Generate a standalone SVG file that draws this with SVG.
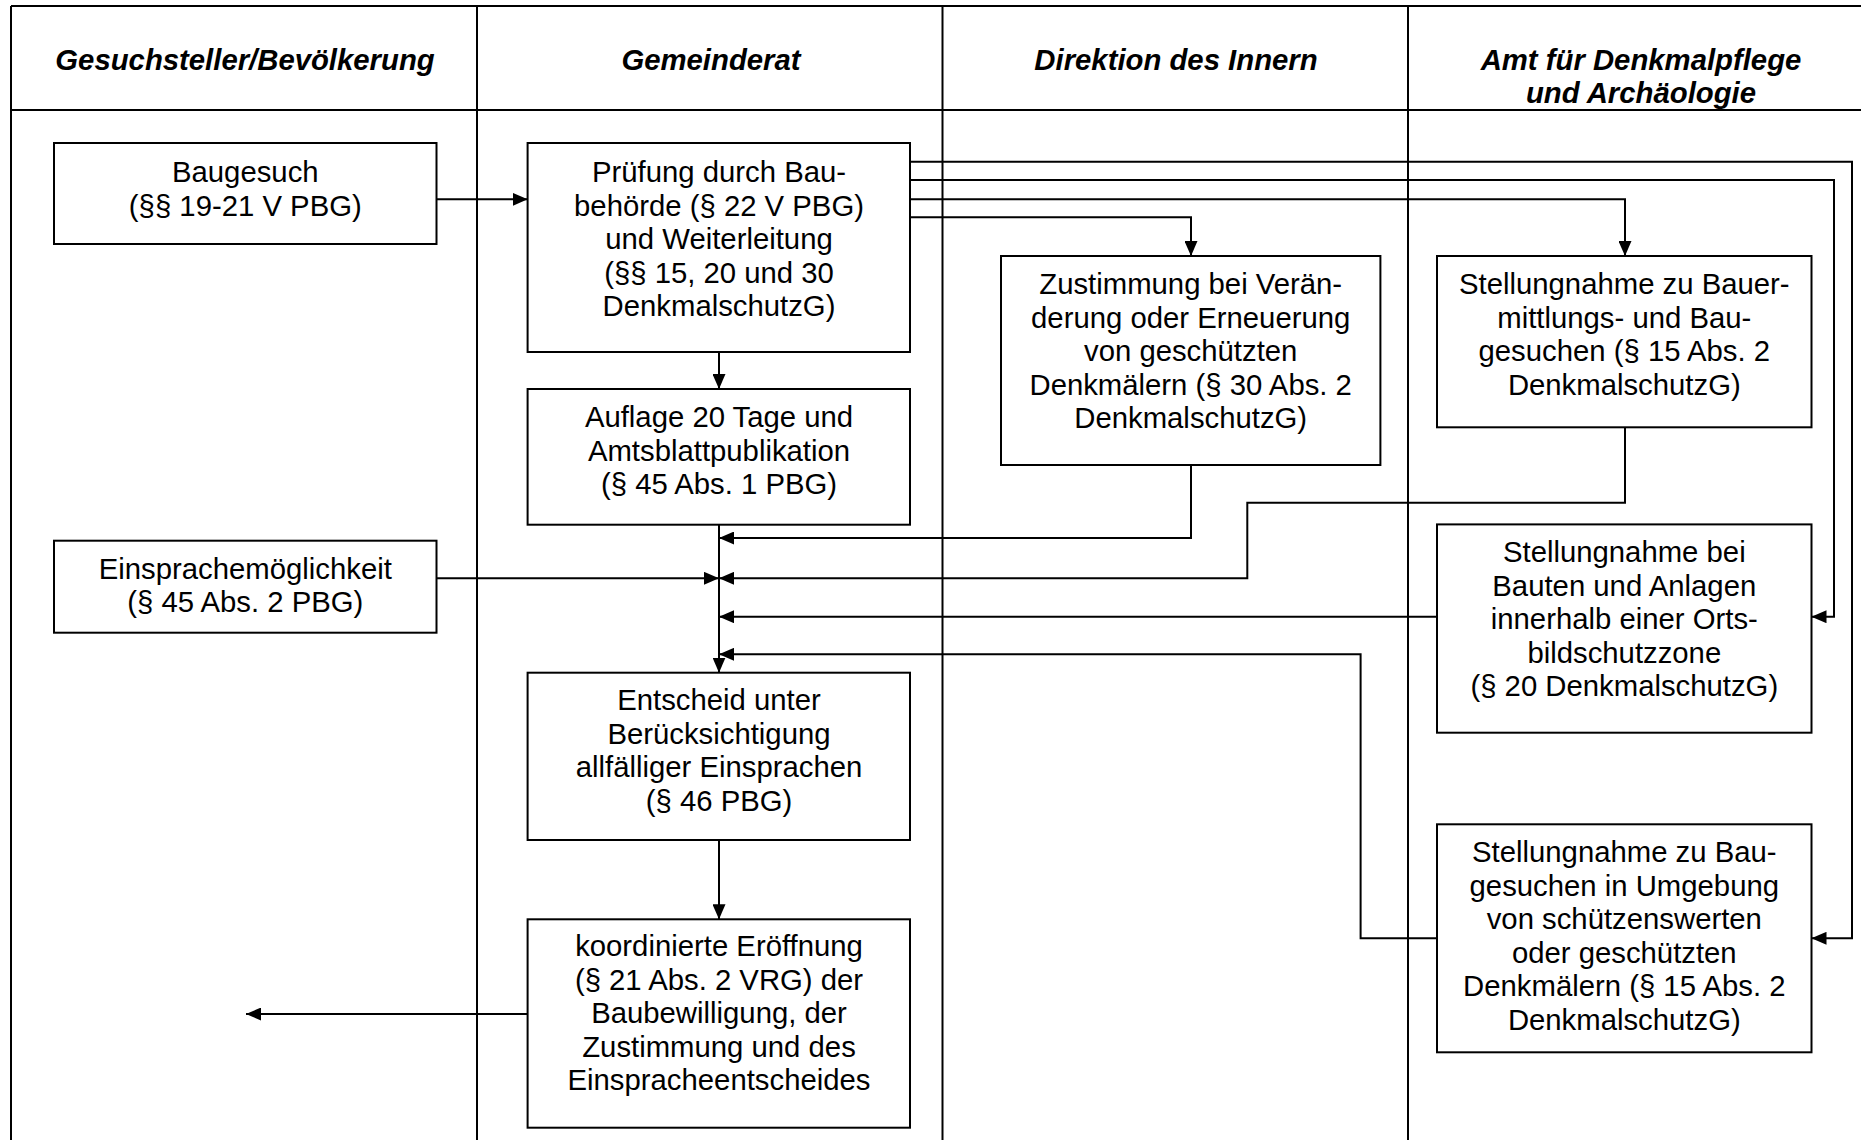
<svg xmlns="http://www.w3.org/2000/svg" width="1861" height="1140" viewBox="0 0 1861 1140">
<style>
.grid{stroke:#000;stroke-width:2;fill:none}
.box{fill:#fff;stroke:#000;stroke-width:2}
.t{font-family:"Liberation Sans",Arial,sans-serif;font-size:29.3px;fill:#000;text-anchor:middle}
.h{font-family:"Liberation Sans",Arial,sans-serif;font-size:29.3px;fill:#000;text-anchor:middle;font-weight:bold;font-style:italic}
.c{stroke:#000;stroke-width:2;fill:none;marker-end:url(#arr)}
</style>
<defs>
<marker id="arr" markerUnits="userSpaceOnUse" markerWidth="15" markerHeight="13" refX="15" refY="6.5" orient="auto">
<path d="M0,0 L15,6.5 L0,13 z" fill="#000"/>
</marker>
</defs>
<rect x="0" y="0" width="1861" height="1140" fill="#fff"/>
<g id="lanes">
<path class="grid" d="M11,6 H1861 M11,110 H1861 M11,6 V1140 M477,6 V1140 M942.5,6 V1140 M1408,6 V1140"/>
<text class="h" x="245" y="69.5">Gesuchsteller/Bevölkerung</text>
<text class="h" x="711" y="69.5">Gemeinderat</text>
<text class="h" x="1176" y="69.5">Direktion des Innern</text>
<text class="h" x="1641" y="69.5">Amt für Denkmalpflege</text>
<text class="h" x="1641" y="103">und Archäologie</text>
</g>
<g id="connectors">
<path class="c" d="M436.5,199.3 H527.6"/>
<path class="c" d="M719,352 V389"/>
<path class="c" d="M910,161.7 H1852 V938.3 H1811.5"/>
<path class="c" d="M910,180 H1834 V616.7 H1811.5"/>
<path class="c" d="M910,199.3 H1625 V256"/>
<path class="c" d="M910,217.3 H1191 V256"/>
<path class="c" d="M1191,465 V538 H719"/>
<path class="c" d="M1625,427 V502.7 H1247.3 V578.3 H719"/>
<path class="c" d="M436.5,578.3 H719"/>
<path class="c" d="M1437,616.7 H719"/>
<path class="c" d="M1437,938.3 H1360.6 V654.3 H719"/>
<path class="c" d="M719,524.7 V672.7"/>
<path class="c" d="M719,840 V919.3"/>
<path class="c" d="M527.6,1014 H246"/>
</g>
<g id="baugesuch">
<rect class="box" x="54" y="143" width="382.5" height="101"/>
<text class="t" x="245.3" y="182">Baugesuch</text>
<text class="t" x="245.3" y="215.5">(§§ 19-21 V PBG)</text>
</g>
<g id="pruefung">
<rect class="box" x="527.6" y="143" width="382.4" height="209"/>
<text class="t" x="719" y="182">Prüfung durch Bau-</text>
<text class="t" x="719" y="215.5">behörde (§ 22 V PBG)</text>
<text class="t" x="719" y="249">und Weiterleitung</text>
<text class="t" x="719" y="282.5">(§§ 15, 20 und 30</text>
<text class="t" x="719" y="316">DenkmalschutzG)</text>
</g>
<g id="zustimmung">
<rect class="box" x="1001" y="256" width="379.4" height="209"/>
<text class="t" x="1190.7" y="294">Zustimmung bei Verän-</text>
<text class="t" x="1190.7" y="327.5">derung oder Erneuerung</text>
<text class="t" x="1190.7" y="361">von geschützten</text>
<text class="t" x="1190.7" y="394.5">Denkmälern (§ 30 Abs. 2</text>
<text class="t" x="1190.7" y="428">DenkmalschutzG)</text>
</g>
<g id="stellungnahme-bauermittlung">
<rect class="box" x="1437" y="256" width="374.5" height="171.3"/>
<text class="t" x="1624.3" y="294">Stellungnahme zu Bauer-</text>
<text class="t" x="1624.3" y="327.5">mittlungs- und Bau-</text>
<text class="t" x="1624.3" y="361">gesuchen (§ 15 Abs. 2</text>
<text class="t" x="1624.3" y="394.5">DenkmalschutzG)</text>
</g>
<g id="auflage">
<rect class="box" x="527.6" y="389" width="382.4" height="135.7"/>
<text class="t" x="719" y="427">Auflage 20 Tage und</text>
<text class="t" x="719" y="460.5">Amtsblattpublikation</text>
<text class="t" x="719" y="494">(§ 45 Abs. 1 PBG)</text>
</g>
<g id="einsprache">
<rect class="box" x="54" y="540.7" width="382.5" height="92"/>
<text class="t" x="245.3" y="578.5">Einsprachemöglichkeit</text>
<text class="t" x="245.3" y="612">(§ 45 Abs. 2 PBG)</text>
</g>
<g id="stellungnahme-ortsbild">
<rect class="box" x="1437" y="524.4" width="374.5" height="208.3"/>
<text class="t" x="1624.3" y="562">Stellungnahme bei</text>
<text class="t" x="1624.3" y="595.5">Bauten und Anlagen</text>
<text class="t" x="1624.3" y="629">innerhalb einer Orts-</text>
<text class="t" x="1624.3" y="662.5">bildschutzzone</text>
<text class="t" x="1624.3" y="696">(§ 20 DenkmalschutzG)</text>
</g>
<g id="entscheid">
<rect class="box" x="527.6" y="672.7" width="382.4" height="167.3"/>
<text class="t" x="719" y="710">Entscheid unter</text>
<text class="t" x="719" y="743.5">Berücksichtigung</text>
<text class="t" x="719" y="777">allfälliger Einsprachen</text>
<text class="t" x="719" y="810.5">(§ 46 PBG)</text>
</g>
<g id="eroeffnung">
<rect class="box" x="527.6" y="919.3" width="382.4" height="208.4"/>
<text class="t" x="719" y="956">koordinierte Eröffnung</text>
<text class="t" x="719" y="989.5">(§ 21 Abs. 2 VRG) der</text>
<text class="t" x="719" y="1023">Baubewilligung, der</text>
<text class="t" x="719" y="1056.5">Zustimmung und des</text>
<text class="t" x="719" y="1090">Einspracheentscheides</text>
</g>
<g id="stellungnahme-umgebung">
<rect class="box" x="1437" y="824.3" width="374.5" height="228"/>
<text class="t" x="1624.3" y="862">Stellungnahme zu Bau-</text>
<text class="t" x="1624.3" y="895.5">gesuchen in Umgebung</text>
<text class="t" x="1624.3" y="929">von schützenswerten</text>
<text class="t" x="1624.3" y="962.5">oder geschützten</text>
<text class="t" x="1624.3" y="996">Denkmälern (§ 15 Abs. 2</text>
<text class="t" x="1624.3" y="1029.5">DenkmalschutzG)</text>
</g>
</svg>
